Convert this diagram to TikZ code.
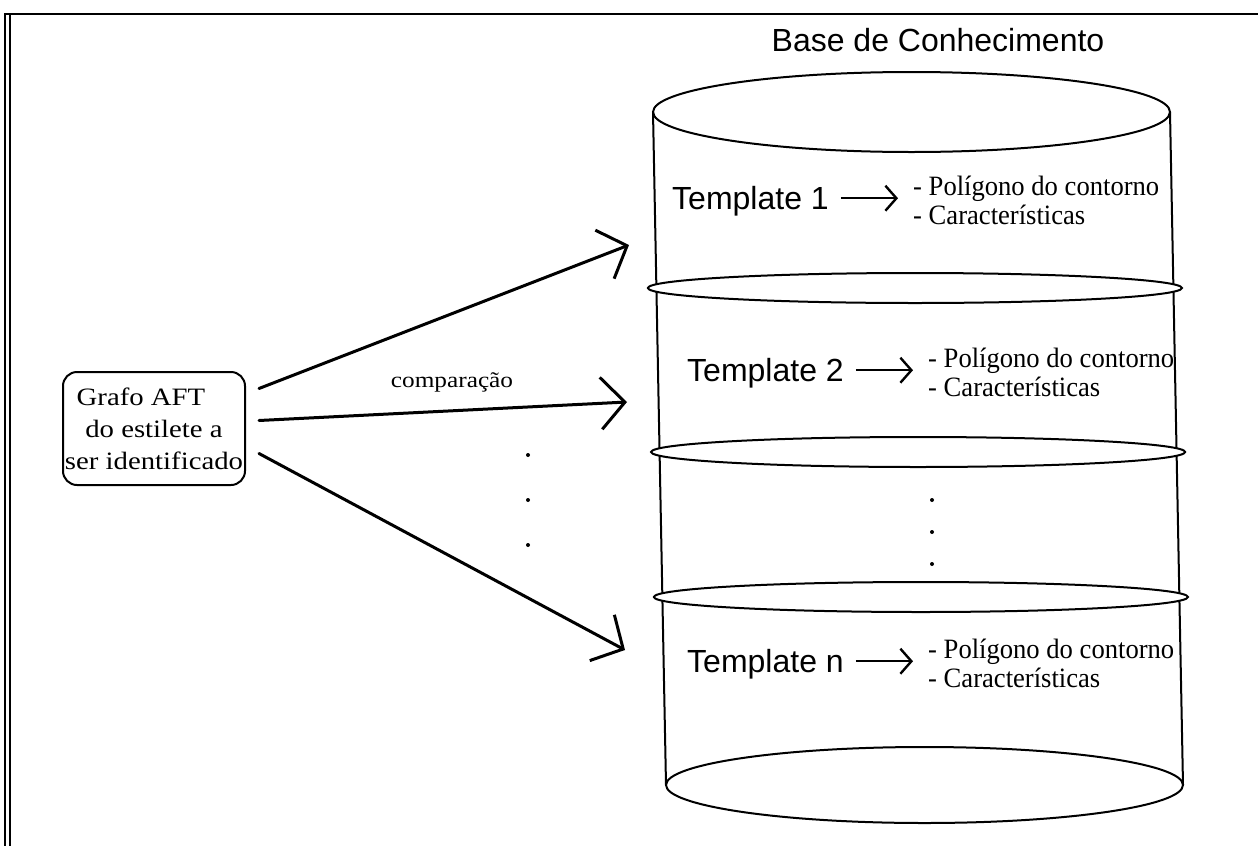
\documentclass[tikz,border=0pt]{standalone}
\usepackage{fontspec}
\setmainfont{Liberation Serif}
\newfontfamily\kbsans{Liberation Sans}
\newfontfamily\kbserif[FakeStretch=1.15]{Liberation Serif}
\newfontfamily\kblist[FakeStretch=0.95]{Liberation Serif}
\usetikzlibrary{arrows.meta,calc}

\begin{document}
\begin{tikzpicture}[x=1pt,y=-1pt,
  outline/.style={line width=2pt},
  band/.style={line width=2pt, fill=white},
  bigarrow/.style={line width=3pt, line cap=round,
    -{Straight Barb[length=24pt,width=52pt,line width=3pt]}},
  smallarrow/.style={line width=2.4pt,
    -{Straight Barb[length=11pt,width=25pt,line width=2.4pt]}},
  tpl/.style={font=\kbsans\fontsize{32}{34}\selectfont, inner sep=0pt, anchor=base west},
  lst/.style={font=\kblist\fontsize{28}{29}\selectfont, inner sep=0pt, anchor=west, align=left},
  dot/.style={fill=black, draw=none}
]
\useasboundingbox (0,0) rectangle (1258,846);

% page frame
\draw[line width=1.6pt] (5,14) -- (5,846);
\draw[line width=1.6pt] (10,14) -- (10,846);
\draw[line width=2.4pt] (4,14) -- (1258,14);

% title
\node[font=\kbsans\fontsize{32}{34}\selectfont, inner sep=0pt] (title) at (938,40) {Base de Conhecimento};

% knowledge base cylinder
\draw[outline] (911.5,112) ellipse [x radius=258.5, y radius=40];
\draw[outline] (653,112) -- (666,785);
\draw[outline] (1170,112) -- (1183,785);
\draw[outline] (924.5,785) ellipse [x radius=258.5, y radius=38];
\draw[band] (914.9,288) ellipse [x radius=267, y radius=15];
\draw[band] (918.1,452) ellipse [x radius=267, y radius=15];
\draw[band] (920.9,597) ellipse [x radius=267, y radius=15];

% template rows
\node[tpl] (t1) at (672,209.5) {Template 1};
\node[lst] (l1) at (913,200) {- Polígono do contorno\\- Características};
\draw[smallarrow] ($(t1.east)+(12,-3)$) -- ($(t1.east -| l1.west)+(-15,-3)$);

\node[tpl] (t2) at (687,381.5) {Template 2};
\node[lst] (l2) at (928,372) {- Polígono do contorno\\- Características};
\draw[smallarrow] ($(t2.east)+(12,-3)$) -- ($(t2.east -| l2.west)+(-15,-3)$);

\node[tpl] (tn) at (687,672.5) {Template n};
\node[lst] (ln) at (928,663) {- Polígono do contorno\\- Características};
\draw[smallarrow] ($(tn.east)+(12,-3)$) -- ($(tn.east -| ln.west)+(-15,-3)$);

% vertical ellipsis inside the cylinder
\fill[dot] (932,500) circle (2);
\fill[dot] (932,532) circle (2);
\fill[dot] (932,564) circle (2);

% graph to be identified
\node[draw, line width=2pt, rounded corners=14pt, minimum width=182pt, minimum height=113pt,
      inner sep=0pt, align=center, font=\kbserif\fontsize{25}{32}\selectfont]
  (graph) at (154,428.5) {Grafo AFT\hspace*{26pt}\\do estilete a\hspace*{8pt}\\ser identificado};

\coordinate (tip1) at (629,245);
\coordinate (tip2) at (627,402);
\coordinate (tip3) at (625,650);
\draw[bigarrow] ($(graph.east)+(13,-40)$) -- (tip1);
\draw[bigarrow] ($(graph.east)+(13,-8)$) -- (tip2);
\draw[bigarrow] ($(graph.east)+(13,25)$) -- (tip3);

\node[font=\kbserif\fontsize{22}{26}\selectfont, inner sep=0pt] (cmp) at (452,382) {comparação};

% vertical ellipsis between the arrows
\fill[dot] (528,455) circle (2);
\fill[dot] (528,500) circle (2);
\fill[dot] (528,545) circle (2);
\end{tikzpicture}
\end{document}
